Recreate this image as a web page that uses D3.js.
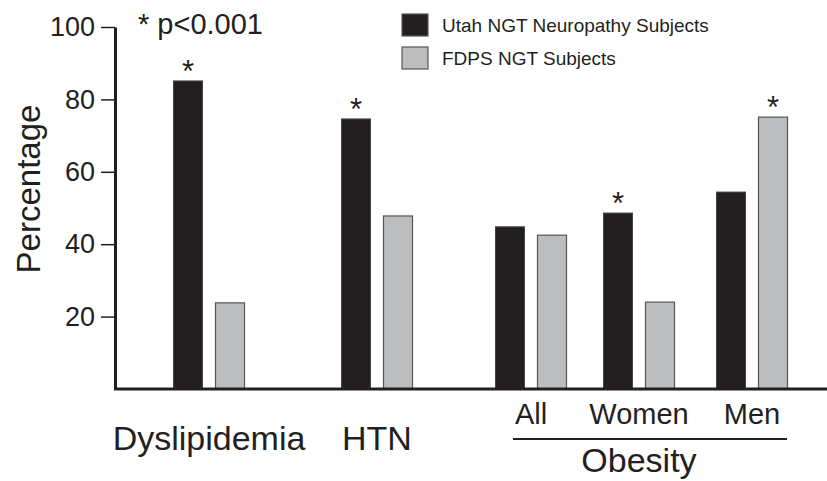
<!DOCTYPE html>
<html>
<head>
<meta charset="utf-8">
<script src="https://cdn.jsdelivr.net/npm/d3@7"></script>
<style>
  body { margin: 0; background: #fff; }
  svg text { font-family: "Liberation Sans", Arial, sans-serif; fill: #231f20; }
</style>
</head>
<body>
<div id="chart"></div>
<script>
// chart data
var categories = ["Dyslipidemia", "HTN", "All", "Women", "Men"];
var utahValues = [85.1, 74.6, 44.8, 48.6, 54.4];
var fdpsValues = [23.8, 47.8, 42.5, 24.0, 75.1];
var utahSig = [true, true, false, true, false];
var fdpsSig = [false, false, false, false, true];
var seriesNames = ["Utah NGT Neuropathy Subjects", "FDPS NGT Subjects"];
var yTicks = [20, 40, 60, 80, 100];

var w = 827, h = 481;
var black = "#231f20", grey = "#bcbdbf";

var svg = d3.select("#chart").append("svg")
    .attr("width", w)
    .attr("height", h);

var y = d3.scaleLinear().domain([0, 100]).range([389, 27]);
// groups are not evenly spaced in the original figure
var x = d3.scaleOrdinal().domain(categories).range([209, 377, 531, 639, 752]);
var barW = 29, gap = 42;

// y axis
var yAxis = d3.axisLeft(y).tickValues(yTicks).tickSize(14).tickSizeOuter(0).tickPadding(6);
var ga = svg.append("g").attr("transform", "translate(115,0)").call(yAxis);
ga.select(".domain").attr("stroke", black).attr("stroke-width", 3);
ga.selectAll(".tick line").attr("stroke", black).attr("stroke-width", 1.5);
ga.selectAll(".tick text")
  .style("font-size", "27px")
  .attr("fill", black);

svg.append("text")
   .attr("transform", "translate(40,189) rotate(-90)")
   .attr("text-anchor", "middle")
   .style("font-size", "33px")
   .text("Percentage");

svg.append("text")
   .attr("x", 138).attr("y", 34)
   .style("font-size", "29px")
   .text("* p<0.001");

// bars
var rows = categories.map(function(c, i) {
  return {cat: c, utah: utahValues[i], fdps: fdpsValues[i], us: utahSig[i], fs: fdpsSig[i]};
});

var bars = svg.selectAll("g.grp").data(rows).enter().append("g").attr("class", "grp");

bars.append("rect")
  .attr("x", function(d) { return x(d.cat) - gap / 2 - barW / 2; })
  .attr("y", function(d) { return y(d.utah); })
  .attr("width", barW)
  .attr("height", function(d) { return y(0) - y(d.utah); })
  .attr("fill", black)
  .attr("stroke", "#444")
  .attr("stroke-width", 1);

bars.append("rect")
  .attr("x", function(d) { return x(d.cat) + gap / 2 - barW / 2; })
  .attr("y", function(d) { return y(d.fdps); })
  .attr("width", barW)
  .attr("height", function(d) { return y(0) - y(d.fdps); })
  .attr("fill", grey)
  .attr("stroke", "#555")
  .attr("stroke-width", 1.2);

bars.filter(function(d) { return d.us; }).append("text")
  .attr("x", function(d) { return x(d.cat) - gap / 2; })
  .attr("y", function(d) { return y(d.utah) + 1; })
  .attr("text-anchor", "middle")
  .style("font-size", "31px")
  .text("*");

bars.filter(function(d) { return d.fs; }).append("text")
  .attr("x", function(d) { return x(d.cat) + gap / 2; })
  .attr("y", function(d) { return y(d.fdps) + 1; })
  .attr("text-anchor", "middle")
  .style("font-size", "31px")
  .text("*");

// baseline
svg.append("line")
   .attr("x1", 114).attr("x2", w)
   .attr("y1", y(0)).attr("y2", y(0))
   .attr("stroke", black).attr("stroke-width", 3);

// category labels
svg.selectAll("text.big").data(categories.slice(0, 2)).enter().append("text")
   .attr("class", "big")
   .attr("x", function(d) { return x(d); })
   .attr("y", 450)
   .attr("text-anchor", "middle")
   .style("font-size", "34px")
   .text(function(d) { return d; });

svg.selectAll("text.sub").data(categories.slice(2)).enter().append("text")
   .attr("class", "sub")
   .attr("x", function(d) { return x(d); })
   .attr("y", 424)
   .attr("text-anchor", "middle")
   .style("font-size", "29px")
   .text(function(d) { return d; });

svg.append("line")
   .attr("x1", 513).attr("x2", 787)
   .attr("y1", 439).attr("y2", 439)
   .attr("stroke", black).attr("stroke-width", 2);

svg.append("text")
   .attr("x", x("Women")).attr("y", 472)
   .attr("text-anchor", "middle")
   .style("font-size", "34px")
   .text("Obesity");

// legend
var leg = svg.selectAll("g.leg").data(seriesNames).enter().append("g")
   .attr("class", "leg")
   .attr("transform", function(d, i) { return "translate(402," + (14 + i * 33) + ")"; });

leg.append("rect")
   .attr("width", 26).attr("height", 22)
   .attr("fill", function(d, i) { return i == 0 ? black : grey; })
   .attr("stroke", "#555").attr("stroke-width", 1.2);

leg.append("text")
   .attr("x", 40).attr("y", 18)
   .style("font-size", "19px")
   .text(function(d) { return d; });
</script>
</body>
</html>
